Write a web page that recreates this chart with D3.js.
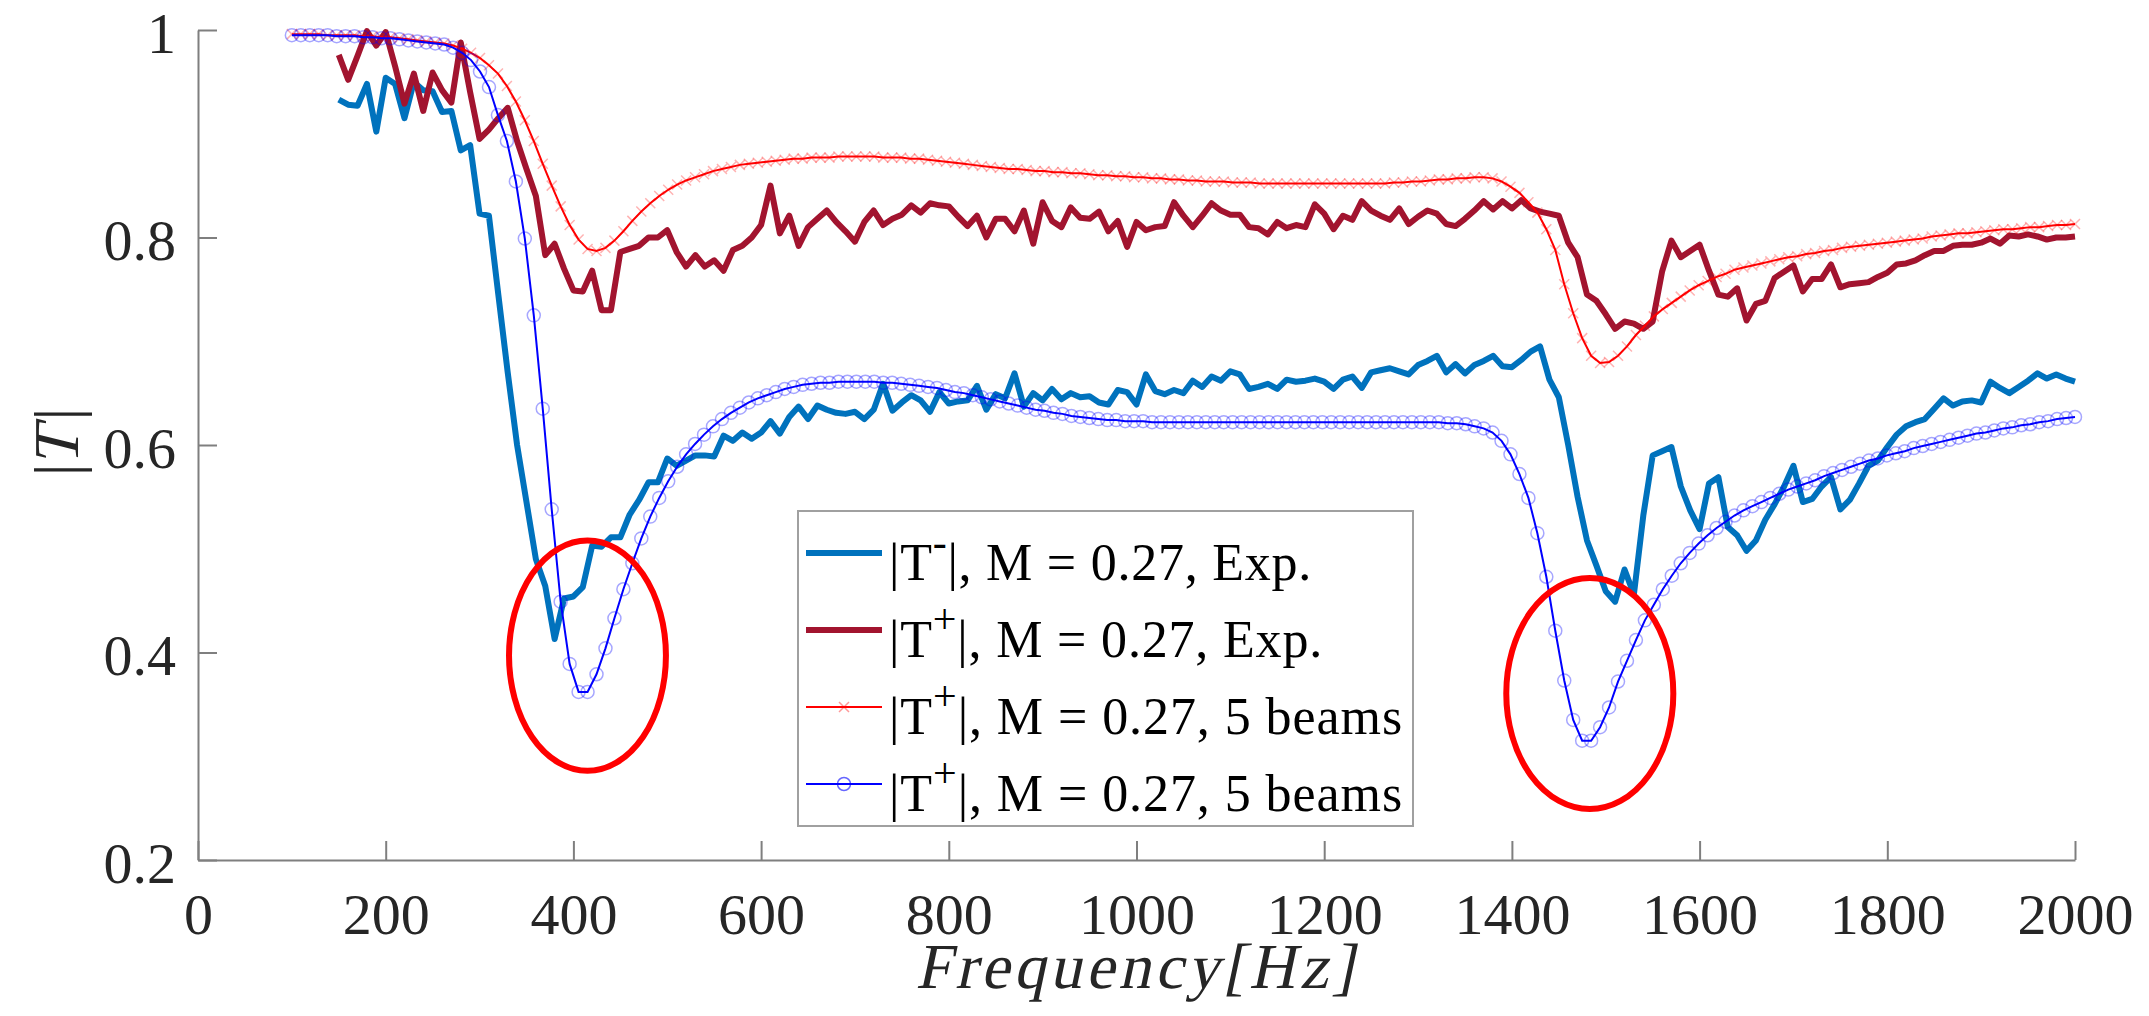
<!DOCTYPE html>
<html><head><meta charset="utf-8">
<script src="https://cdn.jsdelivr.net/npm/d3@7"></script>
<style>
body{margin:0;background:#fff}
svg{display:block}
text{font-family:"Liberation Serif","Times New Roman",serif}
</style>
</head><body>
<svg id="chart" width="2149" height="1016"></svg>
<script>
// ---------- axis ticks ----------
const xTicks = [0,200,400,600,800,1000,1200,1400,1600,1800,2000];
const xTickLabels = ["0","200","400","600","800","1000","1200","1400","1600","1800","2000"];
const yTicks = [0.2,0.4,0.6,0.8,1];
const yTickLabels = ["0.2","0.4","0.6","0.8","1"];

// ---------- sampling grids ----------
const expStartHz = 150, expStepHz = 10;          // experimental data grid
const modelStartHz = 100, modelEndHz = 2000, modelCount = 200; // model grid

// ---------- |T-|, M = 0.27, Exp. (150..2000 Hz) ----------
const tMinusExp = [
0.933,0.928,0.927,0.948,0.902,0.954,0.948,0.915,0.950,0.942,
0.941,0.921,0.922,0.884,0.889,0.823,0.821,0.745,0.670,0.600,
0.545,0.490,0.464,0.413,0.452,0.454,0.463,0.503,0.502,0.511,
0.511,0.533,0.547,0.564,0.564,0.587,0.580,0.585,0.590,0.590,
0.589,0.609,0.604,0.612,0.606,0.612,0.623,0.611,0.627,0.637,
0.625,0.638,0.634,0.631,0.630,0.632,0.625,0.634,0.659,0.633,
0.641,0.648,0.643,0.632,0.651,0.640,0.642,0.643,0.657,0.634,
0.649,0.645,0.669,0.637,0.650,0.643,0.654,0.644,0.650,0.646,
0.647,0.641,0.639,0.653,0.651,0.639,0.668,0.652,0.649,0.653,
0.650,0.662,0.656,0.666,0.662,0.671,0.668,0.654,0.656,0.659,
0.654,0.663,0.661,0.662,0.664,0.661,0.654,0.663,0.666,0.655,
0.670,0.672,0.674,0.671,0.668,0.677,0.681,0.686,0.670,0.678,
0.669,0.677,0.681,0.686,0.676,0.675,0.682,0.690,0.695,0.663,
0.646,0.600,0.550,0.508,0.484,0.459,0.449,0.480,0.456,0.532,
0.590,0.594,0.598,0.560,0.537,0.519,0.563,0.569,0.521,0.513,
0.498,0.508,0.528,0.543,0.560,0.580,0.545,0.548,0.560,0.569,
0.538,0.547,0.563,0.580,0.585,0.598,0.610,0.618,0.622,0.625,
0.635,0.645,0.638,0.642,0.643,0.641,0.661,0.655,0.650,0.656,
0.662,0.669,0.664,0.668,0.664,0.661];

// ---------- |T+|, M = 0.27, Exp. (150..2000 Hz) ----------
const tPlusExp = [
0.976,0.952,0.975,0.999,0.985,0.998,0.965,0.929,0.958,0.922,
0.959,0.942,0.930,0.988,0.940,0.895,0.904,0.915,0.925,0.893,
0.866,0.840,0.783,0.794,0.770,0.749,0.748,0.768,0.730,0.730,
0.786,0.789,0.792,0.800,0.800,0.807,0.786,0.772,0.783,0.772,
0.778,0.768,0.788,0.792,0.800,0.812,0.850,0.804,0.821,0.792,
0.810,0.818,0.826,0.815,0.806,0.796,0.815,0.826,0.812,0.818,
0.822,0.831,0.824,0.833,0.831,0.830,0.820,0.811,0.821,0.800,
0.818,0.818,0.806,0.826,0.794,0.834,0.816,0.810,0.829,0.819,
0.818,0.825,0.806,0.816,0.791,0.815,0.807,0.810,0.811,0.834,
0.821,0.810,0.821,0.833,0.826,0.822,0.822,0.810,0.809,0.803,
0.815,0.809,0.812,0.810,0.832,0.823,0.808,0.821,0.817,0.835,
0.826,0.821,0.817,0.828,0.813,0.820,0.826,0.823,0.813,0.811,
0.818,0.826,0.835,0.827,0.835,0.828,0.836,0.828,0.825,0.823,
0.821,0.795,0.781,0.745,0.739,0.726,0.712,0.719,0.717,0.712,
0.719,0.767,0.797,0.781,0.787,0.793,0.768,0.745,0.743,0.751,
0.720,0.736,0.739,0.761,0.767,0.773,0.748,0.760,0.760,0.774,
0.752,0.755,0.756,0.757,0.762,0.766,0.774,0.775,0.778,0.783,
0.787,0.787,0.792,0.793,0.793,0.795,0.799,0.794,0.802,0.801,
0.803,0.801,0.798,0.800,0.800,0.801];

// ---------- |T+|, M = 0.27, 5 beams (red, x markers; 200 pts 100..2000 Hz) ----------
const tPlusModelRed = [
0.996,0.996,0.996,0.996,0.995,0.995,0.995,0.995,0.994,0.994,
0.993,0.993,0.992,0.991,0.990,0.989,0.988,0.987,0.985,0.982,
0.978,0.973,0.966,0.958,0.946,0.931,0.913,0.893,0.871,0.850,
0.830,0.812,0.798,0.789,0.787,0.790,0.797,0.806,0.816,0.825,
0.833,0.840,0.846,0.851,0.855,0.858,0.861,0.864,0.866,0.868,
0.870,0.871,0.872,0.873,0.874,0.875,0.876,0.876,0.877,0.877,
0.877,0.878,0.878,0.878,0.878,0.878,0.877,0.877,0.877,0.876,
0.876,0.875,0.874,0.873,0.872,0.871,0.870,0.869,0.868,0.867,
0.866,0.866,0.865,0.864,0.864,0.863,0.863,0.862,0.862,0.861,
0.860,0.860,0.859,0.859,0.858,0.858,0.857,0.857,0.856,0.856,
0.855,0.855,0.854,0.854,0.854,0.853,0.853,0.853,0.852,0.852,
0.852,0.852,0.852,0.852,0.852,0.852,0.852,0.852,0.852,0.852,
0.852,0.852,0.852,0.853,0.853,0.854,0.854,0.855,0.856,0.856,
0.857,0.857,0.858,0.858,0.857,0.854,0.849,0.843,0.834,0.824,
0.808,0.788,0.755,0.727,0.703,0.686,0.679,0.680,0.686,0.695,
0.706,0.715,0.724,0.731,0.737,0.743,0.749,0.754,0.758,0.762,
0.765,0.769,0.771,0.773,0.775,0.777,0.779,0.781,0.782,0.784,
0.785,0.787,0.788,0.790,0.791,0.792,0.793,0.794,0.795,0.796,
0.797,0.798,0.799,0.801,0.802,0.803,0.804,0.804,0.805,0.806,
0.807,0.808,0.808,0.809,0.810,0.810,0.811,0.812,0.812,0.813];

// ---------- |T+|, M = 0.27, 5 beams (blue, o markers; 200 pts 100..2000 Hz) ----------
const tPlusModelBlue = [
0.995,0.995,0.995,0.995,0.995,0.994,0.994,0.994,0.993,0.993,
0.992,0.992,0.991,0.990,0.989,0.988,0.987,0.986,0.983,0.978,
0.971,0.960,0.945,0.918,0.893,0.854,0.799,0.725,0.635,0.538,
0.449,0.389,0.362,0.362,0.379,0.404,0.433,0.461,0.486,0.510,
0.531,0.549,0.565,0.579,0.591,0.601,0.610,0.618,0.625,0.631,
0.636,0.641,0.645,0.648,0.651,0.654,0.656,0.658,0.659,0.660,
0.660,0.661,0.661,0.661,0.661,0.661,0.660,0.660,0.659,0.658,
0.657,0.656,0.655,0.653,0.651,0.650,0.648,0.646,0.644,0.642,
0.640,0.638,0.636,0.634,0.633,0.631,0.630,0.628,0.627,0.626,
0.625,0.624,0.624,0.623,0.623,0.623,0.622,0.622,0.622,0.622,
0.622,0.622,0.622,0.622,0.622,0.622,0.622,0.622,0.622,0.622,
0.622,0.622,0.622,0.622,0.622,0.622,0.622,0.622,0.622,0.622,
0.622,0.622,0.622,0.622,0.622,0.622,0.622,0.622,0.622,0.621,
0.621,0.620,0.618,0.616,0.612,0.604,0.591,0.572,0.549,0.515,
0.473,0.421,0.373,0.335,0.315,0.315,0.328,0.347,0.372,0.392,
0.412,0.431,0.446,0.461,0.474,0.486,0.496,0.505,0.513,0.520,
0.526,0.532,0.537,0.541,0.545,0.549,0.553,0.557,0.560,0.563,
0.566,0.570,0.573,0.576,0.579,0.582,0.585,0.587,0.590,0.592,
0.594,0.597,0.599,0.601,0.603,0.605,0.607,0.609,0.611,0.612,
0.614,0.616,0.617,0.619,0.620,0.622,0.623,0.625,0.626,0.627];

// ---------- highlighted regions (data units: Hz, |T|) ----------
const highlightCenterHz = [415, 1483];
const highlightCenterT = [0.397, 0.3605];
const highlightRadiusHz = [83.6, 89];
const highlightRadiusT = [0.111, 0.1113];

// ---------- legend ----------
const legendSup = ["-", "+", "+", "+"];
const legendRest = ["|, M = 0.27, Exp.", "|, M = 0.27, Exp.", "|, M = 0.27, 5 beams", "|, M = 0.27, 5 beams"];

// ---------- build ----------
const COL_BLUE_EXP = "#0072BD", COL_RED_EXP = "#A2142F", COL_RED = "#FF0000", COL_BLUE = "#0000FF";
const svg = d3.select("#chart");
const x = d3.scaleLinear().domain([0, 2000]).range([198, 2075]);
const y = d3.scaleLinear().domain([0.2, 1]).range([860, 30]);

const expData = arr => arr.map((v, i) => ({f: expStartHz + i * expStepHz, v}));
const modelData = arr => arr.map((v, i) => ({f: modelStartHz + i * (modelEndHz - modelStartHz) / (modelCount - 1), v}));
const line = d3.line().x(d => x(d.f)).y(d => y(d.v));

// fit a text element's width by letter spacing
function fitWidth(sel, target) {
  const n = sel.text().length;
  const w = sel.node().getComputedTextLength();
  sel.attr("letter-spacing", ((target - w) / n).toFixed(2));
}

// axes
const axisColor = "#7f7f7f";
const gx = svg.append("g").attr("transform", `translate(0,${y(0.2)})`)
  .call(d3.axisBottom(x).tickValues(xTicks).tickFormat((d, i) => xTickLabels[i]).tickSizeInner(-19).tickSizeOuter(0));
const gy = svg.append("g").attr("transform", `translate(${x(0)},0)`)
  .call(d3.axisLeft(y).tickValues(yTicks).tickFormat((d, i) => yTickLabels[i]).tickSizeInner(-19).tickSizeOuter(0));
[gx, gy].forEach(g => {
  g.attr("font-family", null);
  g.select(".domain").attr("stroke", axisColor).attr("stroke-width", 2);
  g.selectAll(".tick line").attr("stroke", axisColor).attr("stroke-width", 2);
  g.selectAll(".tick text").attr("fill", "#262626").attr("font-size", 58);
});
gx.selectAll(".tick text").attr("y", 74).attr("dy", 0);
gy.selectAll(".tick text").attr("x", -22).attr("dy", "0.38em");

// data lines
const dBlueExp = expData(tMinusExp), dRedExp = expData(tPlusExp);
const dRedModel = modelData(tPlusModelRed), dBlueModel = modelData(tPlusModelBlue);

svg.append("path").datum(dBlueExp).attr("d", line).attr("fill", "none")
  .attr("stroke", COL_BLUE_EXP).attr("stroke-width", 6).attr("stroke-linejoin", "round");
svg.append("path").datum(dRedExp).attr("d", line).attr("fill", "none")
  .attr("stroke", COL_RED_EXP).attr("stroke-width", 6).attr("stroke-linejoin", "round");

// red model + x markers
const xs = 5;
const xMark = (cx, cy) => `M${cx-xs},${cy-xs}L${cx+xs},${cy+xs}M${cx-xs},${cy+xs}L${cx+xs},${cy-xs}`;
svg.append("path").datum(dRedModel).attr("d", line).attr("fill", "none")
  .attr("stroke", COL_RED).attr("stroke-width", 2);
svg.append("g").selectAll("path").data(dRedModel).join("path")
  .attr("d", d => xMark(x(d.f), y(d.v)))
  .attr("stroke", COL_RED).attr("stroke-opacity", 0.3).attr("stroke-width", 1.5).attr("fill", "none");

// blue model + o markers
svg.append("path").datum(dBlueModel).attr("d", line).attr("fill", "none")
  .attr("stroke", COL_BLUE).attr("stroke-width", 2);
svg.append("g").selectAll("circle").data(dBlueModel).join("circle")
  .attr("cx", d => x(d.f)).attr("cy", d => y(d.v)).attr("r", 6.5)
  .attr("fill", "none").attr("stroke", COL_BLUE).attr("stroke-opacity", 0.35).attr("stroke-width", 1.5);

// highlight ellipses
svg.append("g").selectAll("ellipse").data(highlightCenterHz).join("ellipse")
  .attr("cx", d => x(d)).attr("cy", (d, i) => y(highlightCenterT[i]))
  .attr("rx", (d, i) => x(d + highlightRadiusHz[i]) - x(d))
  .attr("ry", (d, i) => y(highlightCenterT[i] - highlightRadiusT[i]) - y(highlightCenterT[i]))
  .attr("fill", "none").attr("stroke", "#FF0000").attr("stroke-width", 6);

// y axis title |T| (rotated), italic T emulated with a skew
const yl = svg.append("g").attr("transform", "translate(56,442) rotate(-90)");
const ylFs = 64;
const barL = yl.append("text").attr("font-size", ylFs).attr("fill", "#262626").attr("dominant-baseline", "central").text("|");
const tT = yl.append("text").attr("font-size", ylFs).attr("fill", "#262626").attr("dominant-baseline", "central").text("T");
const barR = yl.append("text").attr("font-size", ylFs).attr("fill", "#262626").attr("dominant-baseline", "central").text("|");
{
  const wb = barL.node().getComputedTextLength(), wt = tT.node().getComputedTextLength();
  const total = 2 * wb + wt + 4;
  let x0 = -total / 2;
  barL.attr("x", x0);
  tT.attr("transform", `translate(${x0 + wb + 2},0) skewX(-14)`);
  barR.attr("x", x0 + wb + wt + 4);
}

// x axis title Frequency[Hz]
const xt = svg.append("text")
  .attr("transform", `translate(${(x(0) + x(2000)) / 2},988) skewX(-12)`)
  .attr("text-anchor", "middle").attr("font-size", 64).attr("fill", "#262626")
  .text("Frequency[Hz]");
fitWidth(xt, 442);

// legend
const lg = svg.append("g");
lg.append("rect").attr("x", 798).attr("y", 511).attr("width", 615).attr("height", 315)
  .attr("fill", "#fff").attr("stroke", "#a0a0a0").attr("stroke-width", 2);
const rowY = [553, 630, 707, 784];
const rowW = [423, 434, 514, 514];
const legendStyles = [
  {c: COL_BLUE_EXP, w: 6, m: null}, {c: COL_RED_EXP, w: 6, m: null},
  {c: COL_RED, w: 2, m: "x"}, {c: COL_BLUE, w: 2, m: "o"}];
rowY.forEach((ry, i) => {
  const s = legendStyles[i];
  lg.append("line").attr("x1", 806).attr("x2", 882).attr("y1", ry).attr("y2", ry)
    .attr("stroke", s.c).attr("stroke-width", s.w);
  if (s.m === "x") lg.append("path").attr("d", xMark(844, ry))
    .attr("stroke", COL_RED).attr("stroke-opacity", 0.4).attr("stroke-width", 1.5);
  if (s.m === "o") lg.append("circle").attr("cx", 844).attr("cy", ry).attr("r", 6.5)
    .attr("fill", "none").attr("stroke", COL_BLUE).attr("stroke-opacity", 0.6).attr("stroke-width", 1.5);
  const t = lg.append("text").attr("x", 889).attr("y", ry + 27).attr("font-size", 52).attr("fill", "#000");
  t.append("tspan").text("|T");
  t.append("tspan").attr("font-size", 42).attr("dy", -24).text(legendSup[i]);
  t.append("tspan").attr("dy", 24).text(legendRest[i]);
  fitWidth(t, rowW[i]);
});
</script>
</body></html>
